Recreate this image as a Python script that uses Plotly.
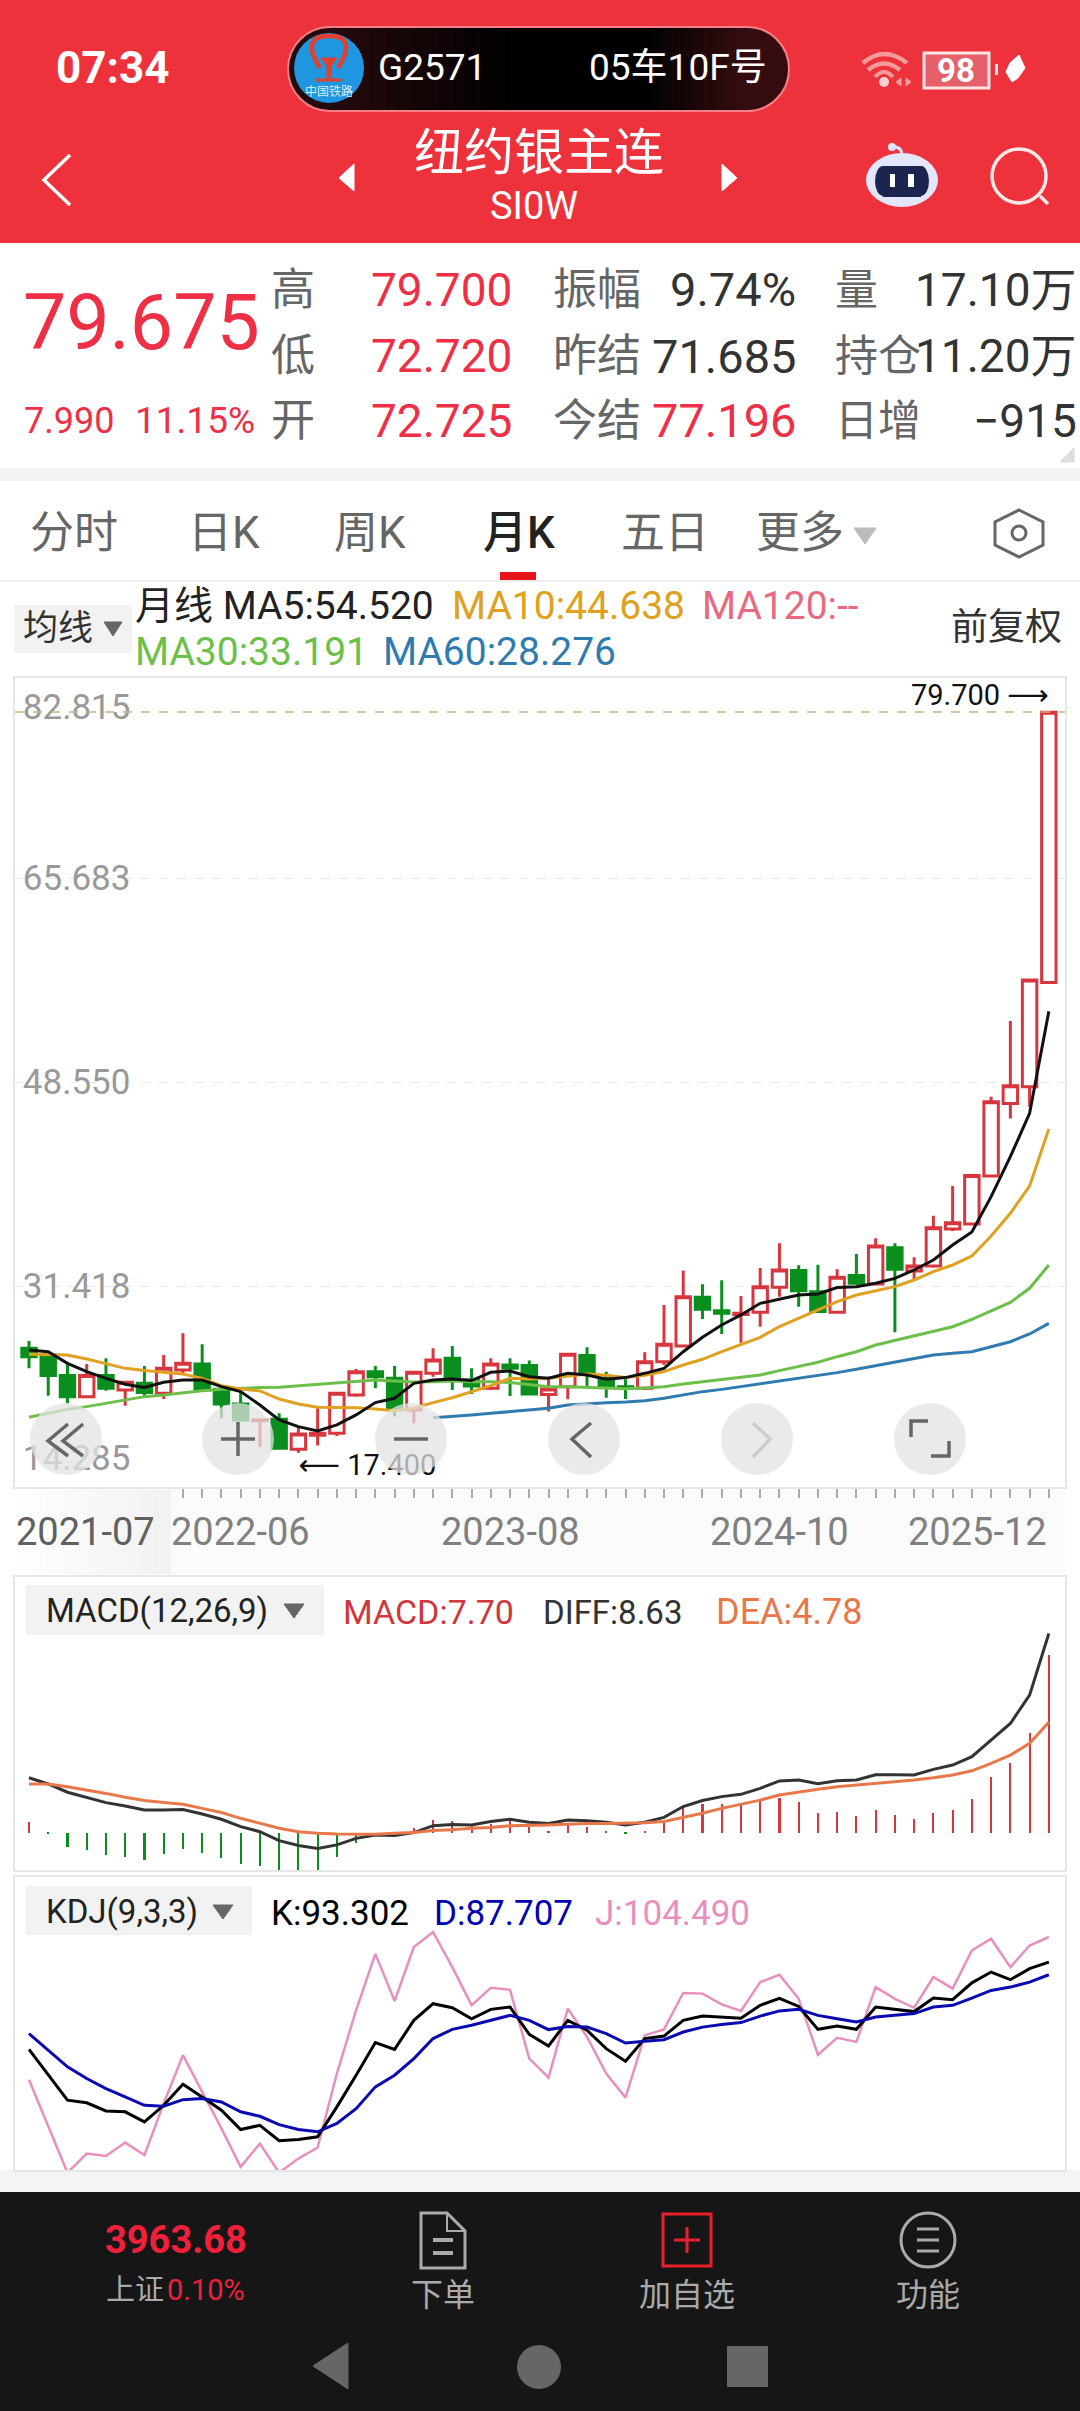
import pandas as pd
import plotly.graph_objects as go

W, H = 1080, 2411
FONT = "Roboto, Noto Sans CJK SC, DejaVu Sans"

months = list(pd.date_range("2021-07-01", periods=54, freq="MS").strftime("%Y-%m"))
x_pos = list(range(len(months)))

opens = [26.18, 25.48, 23.89, 22.12, 23.89, 22.68, 23.24, 22.40, 24.36,
         24.87, 22.74, 21.50, 20.10, 20.21, 17.69, 18.87, 19.04, 22.26,
         24.22, 23.66, 21.00, 24.08, 25.34, 23.52, 22.82, 24.78, 24.73,
         22.31, 22.96, 25.57, 23.66, 22.96, 22.82, 25.06, 26.38, 30.47,
         29.35, 29.02, 29.21, 31.31, 32.72, 30.95, 29.21, 32.30, 31.59,
         34.65, 32.69, 33.11, 36.22, 36.64, 40.68, 46.78, 48.19, 56.96]
highs = [26.80, 25.76, 24.92, 24.87, 25.34, 23.38, 24.70, 25.62, 27.45,
         26.52, 22.96, 22.54, 20.16, 20.72, 19.60, 21.14, 22.40, 24.45,
         24.70, 24.70, 24.22, 26.18, 26.38, 24.50, 25.34, 25.34, 25.15,
         23.80, 25.68, 26.27, 24.22, 23.58, 25.85, 29.83, 32.72, 31.57,
         31.90, 30.59, 32.94, 35.02, 33.16, 33.22, 32.83, 34.12, 35.44,
         35.02, 33.84, 37.34, 39.84, 40.71, 47.34, 53.71, 57.16, 79.70]
lows = [24.50, 22.20, 21.56, 21.98, 22.62, 21.36, 22.12, 21.92, 24.08,
        22.68, 20.30, 20.16, 17.91, 17.77, 17.40, 18.00, 18.81, 22.12,
        22.82, 20.44, 19.88, 23.80, 22.68, 22.34, 22.68, 22.17, 22.26,
        20.86, 21.89, 22.96, 22.03, 21.92, 22.68, 24.78, 26.27, 28.65,
        27.39, 26.66, 28.00, 30.53, 29.69, 29.18, 29.13, 31.51, 31.51,
        27.53, 31.93, 32.97, 36.05, 36.56, 40.57, 45.52, 46.50, 56.96]
closes = [25.48, 23.89, 22.12, 23.89, 22.82, 23.33, 22.46, 24.50, 24.92,
          22.68, 21.50, 20.16, 20.16, 17.77, 18.98, 19.04, 22.40, 24.22,
          23.80, 21.14, 24.17, 25.20, 23.61, 23.02, 24.87, 24.50, 22.34,
          22.76, 25.68, 24.08, 23.02, 22.85, 25.06, 26.52, 30.53, 29.46,
          29.13, 29.13, 31.37, 32.77, 31.03, 29.27, 32.16, 31.65, 34.79,
          32.83, 33.11, 36.33, 36.75, 40.71, 46.93, 48.27, 57.16, 79.675]

ma5 = [26.04, 25.90, 24.92, 24.22, 23.66, 23.16, 22.90, 23.33, 23.52,
       23.52, 22.96, 22.54, 21.42, 20.16, 19.60, 19.23, 19.74, 20.58,
       21.62, 21.98, 23.24, 23.52, 23.61, 23.47, 24.17, 24.28, 23.80,
       23.66, 24.08, 23.94, 23.58, 23.72, 24.08, 24.50, 25.90, 27.11,
       28.15, 28.99, 29.97, 30.33, 30.67, 30.75, 31.29, 31.37, 31.65,
       32.07, 32.77, 33.61, 34.87, 35.96, 38.94, 42.30, 45.95, 54.52]
ma10 = [25.68, 25.68, 25.62, 25.29, 24.92, 24.50, 24.31, 24.14, 24.03,
        23.66, 23.04, 22.76, 22.60, 21.92, 21.50, 21.22, 21.22, 21.19,
        21.08, 20.94, 21.14, 21.62, 22.03, 22.54, 23.04, 23.66, 23.61,
        23.66, 23.86, 24.03, 23.91, 23.72, 23.91, 24.22, 24.78, 25.26,
        25.90, 26.52, 27.11, 28.00, 28.71, 29.46, 30.11, 30.67, 31.03,
        31.37, 31.93, 32.63, 33.19, 33.95, 35.63, 37.54, 39.84, 44.64]
ma30 = [20.38, 20.72, 21.05, 21.28, 21.56, 21.84, 22.12, 22.26, 22.46,
        22.62, 22.74, 22.82, 22.88, 22.90, 23.02, 23.19, 23.30, 23.44,
        23.52, 23.44, 23.35, 23.38, 23.44, 23.38, 23.38, 23.30, 23.16,
        22.96, 22.96, 22.90, 22.79, 22.79, 22.85, 22.96, 23.18, 23.38,
        23.58, 23.75, 23.94, 24.31, 24.64, 25.01, 25.48, 25.90, 26.46,
        26.83, 27.22, 27.59, 28.00, 28.62, 29.35, 30.05, 31.23, 33.19]
ma60 = [None] * 21 + [20.35, 20.44, 20.58, 20.72, 20.86, 21.00,
        21.14, 21.42, 21.53, 21.61, 21.67, 21.78, 21.98, 22.29, 22.54,
        22.73, 22.96, 23.16, 23.44, 23.66, 23.89, 24.14, 24.42, 24.73,
        25.01, 25.31, 25.62, 25.76, 25.90, 26.32, 26.74, 27.39, 28.28]

macd = [0.45, -0.06, -0.63, -0.75, -0.97, -1.04, -1.18, -0.94, -0.72,
        -0.89, -1.08, -1.37, -1.44, -1.76, -1.73, -1.65, -1.04, -0.46,
        -0.10, -0.03, 0.22, 0.55, 0.50, 0.33, 0.38, 0.52, 0.26,
        0.09, 0.33, 0.23, 0.04, -0.06, 0.09, 0.40, 1.10, 1.23,
        1.24, 1.20, 1.37, 1.52, 1.31, 0.87, 0.88, 0.72, 0.98,
        0.75, 0.59, 0.84, 0.98, 1.46, 2.42, 3.00, 4.30, 7.70]
diff = [2.38, 2.11, 1.75, 1.53, 1.30, 1.15, 0.98, 0.98, 1.00,
        0.81, 0.58, 0.26, 0.04, -0.35, -0.56, -0.69, -0.53, -0.25,
        -0.10, -0.12, 0.00, 0.30, 0.35, 0.33, 0.48, 0.58, 0.45,
        0.40, 0.55, 0.52, 0.45, 0.33, 0.45, 0.66, 1.13, 1.39,
        1.56, 1.66, 1.92, 2.24, 2.28, 2.12, 2.25, 2.28, 2.51,
        2.51, 2.50, 2.74, 2.93, 3.29, 4.01, 4.73, 5.96, 8.63]
dea = [2.11, 2.11, 1.99, 1.85, 1.70, 1.53, 1.39, 1.31, 1.23,
       1.05, 0.87, 0.62, 0.40, 0.19, 0.04, -0.03, -0.06, -0.07,
       -0.07, -0.03, 0.01, 0.09, 0.12, 0.19, 0.22, 0.30, 0.30,
       0.33, 0.36, 0.40, 0.40, 0.40, 0.43, 0.48, 0.65, 0.84,
       1.05, 1.23, 1.41, 1.63, 1.77, 1.88, 1.99, 2.06, 2.14,
       2.21, 2.28, 2.38, 2.50, 2.68, 3.00, 3.36, 3.87, 4.78]

k_line = [54.5, 43.0, 31.9, 30.7, 27.1, 26.7, 22.2, 29.6, 39.0,
          33.3, 27.4, 18.8, 20.7, 13.8, 14.4, 15.6, 28.9, 43.0,
          57.5, 54.5, 67.4, 74.8, 73.0, 68.1, 72.3, 73.3, 61.2,
          56.0, 67.4, 63.0, 54.8, 49.2, 59.3, 60.4, 67.4, 69.3,
          68.7, 68.3, 74.1, 77.2, 73.6, 63.4, 64.9, 63.4, 73.3,
          72.3, 71.3, 77.3, 76.6, 84.1, 88.9, 85.5, 90.4, 93.3]
d_line = [61.5, 54.1, 46.7, 41.5, 37.0, 33.3, 29.6, 29.2, 32.1,
          32.6, 31.1, 26.7, 24.7, 21.0, 18.8, 17.8, 21.5, 28.1,
          37.8, 43.0, 50.4, 59.3, 63.4, 65.2, 67.4, 69.6, 67.4,
          63.3, 64.7, 64.4, 61.5, 57.3, 58.1, 58.8, 62.2, 64.4,
          65.6, 66.4, 69.3, 71.6, 72.3, 69.6, 68.1, 66.7, 68.9,
          69.6, 70.4, 73.3, 74.1, 77.3, 80.7, 82.2, 84.4, 87.7]
j_line = [41.0, 20.0, -0.4, 8.1, 7.0, 13.0, 7.4, 30.4, 51.9,
          35.6, 19.3, 2.2, 12.6, -0.4, 5.9, 10.8, 43.7, 71.9,
          97.0, 76.0, 100.0, 106.7, 91.1, 74.1, 81.9, 81.0, 50.4,
          41.9, 72.6, 60.0, 43.7, 33.0, 60.7, 63.4, 79.6, 79.3,
          74.5, 71.6, 84.4, 87.7, 77.0, 52.1, 59.6, 57.8, 82.2,
          77.0, 73.0, 86.7, 81.5, 98.5, 103.7, 91.1, 100.7, 104.5]

price_ticks = [14.285, 31.418, 48.550, 65.683, 82.815]
major_months = ["2022-06", "2023-08", "2024-10", "2025-12"]

RED = "#d8363e"
GREEN = "#0a8f1e"
TOP_RED = "#ee323c"
QUOTE_RED = "#ee2f45"
LINE = "#e6e6e6"


def X(px):
    return px / W


def Y(px):
    return 1 - px / H


shapes = []
notes = []


def rect(x0, y0, x1, y1, fill, line=None, lw=0, layer="below"):
    shapes.append(dict(type="rect", xref="paper", yref="paper", x0=X(x0), x1=X(x1),
                       y0=Y(y0), y1=Y(y1), fillcolor=fill, layer=layer,
                       line=dict(color=line or fill, width=lw)))


def circle(cx, cy, rx, ry, fill, line=None, lw=0, layer="above"):
    shapes.append(dict(type="circle", xref="paper", yref="paper", x0=X(cx - rx), x1=X(cx + rx),
                       y0=Y(cy - ry), y1=Y(cy + ry), fillcolor=fill, layer=layer,
                       line=dict(color=line or fill, width=lw)))


def path(pts, color, lw=3, fill="rgba(0,0,0,0)", close=False, layer="above"):
    d = "M " + " L ".join(f"{X(a):.5f},{Y(b):.5f}" for a, b in pts)
    if close:
        d += " Z"
    shapes.append(dict(type="path", xref="paper", yref="paper", path=d, fillcolor=fill,
                       layer=layer, line=dict(color=color, width=lw)))


def curve(p0, ctrl, p1, color, lw=4):
    d = (f"M {X(p0[0]):.5f},{Y(p0[1]):.5f} Q {X(ctrl[0]):.5f},{Y(ctrl[1]):.5f} "
         f"{X(p1[0]):.5f},{Y(p1[1]):.5f}")
    shapes.append(dict(type="path", xref="paper", yref="paper", path=d, layer="above",
                       line=dict(color=color, width=lw)))


def text(x, y, s, size, color="#333333", anchor="left", weight=400):
    notes.append(dict(xref="paper", yref="paper", x=X(x), y=Y(y), text=s, showarrow=False,
                      xanchor=anchor, yanchor="middle", borderpad=0,
                      font=dict(family=FONT, size=size, color=color, weight=weight)))


def strips(x0, x1, y0, y1, c0, c1, n, layer="below"):
    step = (x1 - x0) / n
    for i in range(n):
        t = i / (n - 1)
        col = "rgb(%d,%d,%d)" % tuple(round(a + (b - a) * t) for a, b in zip(c0, c1))
        rect(x0 + i * step, y0, x0 + (i + 1) * step + 0.5, y1, col, layer=layer)


# page background blocks
rect(0, 0, W, 243, TOP_RED)
rect(0, 468, W, 481, "#f3f3f3")
rect(15, 1490, 1065, 1574, "#fbfbfb")
strips(15, 170, 1490, 1574, (254, 254, 254), (242, 242, 242), 10)
rect(0, 2170, W, 2192, "#f4f4f4")
rect(0, 2192, W, H, "#161616")
rect(0, 580, W, 582, "#eeeeee")

# status bar
text(112, 68, "07:34", 44, "white", "center", 700)
pill_l, pill_r = (36, 10, 12), (52, 12, 15)
circle(330, 69, 42, 42, "rgb(36,10,12)", "#f58088", 2, "below")
circle(747, 69, 42, 42, "rgb(52,12,15)", "#f58088", 2, "below")
strips(330, 520, 28, 110, pill_l, (0, 0, 0), 14)
rect(520, 28, 640, 110, "#000000")
strips(640, 747, 28, 110, (0, 0, 0), pill_r, 10)
path([(330, 27), (747, 27)], "#f58088", 2, layer="below")
path([(330, 111), (747, 111)], "#f58088", 2, layer="below")
circle(329, 68, 35, 35, "#1f96e0")
curve((320, 68), (300, 36), (329, 36), "#e0402c", 4.5)
curve((329, 36), (358, 36), (338, 68), "#e0402c", 4.5)
path([(321, 58), (337, 58), (331, 66), (331, 78), (327, 78), (327, 66)], "#e0402c", 1, "#e0402c", True)
path([(316, 80), (342, 80)], "#e0402c", 3)
text(329, 92, "中国铁路", 12, "#d8f0ff", "center")
text(377, 68, "G2571", 37, "white")
text(768, 68, "05车10F号", 37, "white", "right")
wifi = "#f79a9a"
curve((863, 63), (884, 45), (907, 63), wifi, 4.5)
curve((868, 70), (884, 57), (900, 70), wifi, 4.5)
curve((875, 77), (884, 67), (893, 77), wifi, 4)
circle(884, 82, 5, 5, "#fbd0d0")
path([(901, 78), (896, 82), (901, 86)], wifi, 1, wifi, True)
path([(906, 78), (911, 82), (906, 86)], wifi, 1, wifi, True)
rect(924, 53, 989, 88, "#e6606a", "#fbe4e4", 3, "above")
text(956, 71, "98", 33, "white", "center", 700)
rect(995, 64, 998, 75, "#fbe4e4", layer="above")
path([(1019, 55), (1025, 68), (1018, 78), (1012, 82), (1006, 72), (1010, 63)], "white", 1, "white", True)

# title row
path([(70, 155), (44, 180), (70, 205)], "white", 3.5)
path([(354, 164), (339, 178), (354, 191)], "white", 1, "white", True)
path([(722, 164), (737, 178), (722, 191)], "white", 1, "white", True)
text(539, 153, "纽约银主连", 50, "white", "center")
text(534, 206, "SI0W", 38, "white", "center")
curve((892, 147), (900, 146), (902, 153), "#dfe3fb", 3)
circle(892, 147, 4, 4, "#dfe3fb")
circle(902, 180, 36, 27, "#e4e6fb")
rect(883, 166, 921, 197, "#1c2550", layer="above")
circle(883, 181, 8, 15, "#1c2550")
circle(921, 181, 8, 15, "#1c2550")
rect(890, 174, 895, 187, "white", layer="above")
rect(908, 174, 914, 187, "white", layer="above")
circle(1019, 176, 27, 27, "rgba(0,0,0,0)", "#fde8e8", 3.5)
path([(1040, 196), (1048, 204)], "#fde8e8", 3.5)

# quote block
text(141, 323, "79.675", 77, QUOTE_RED, "center")
text(23, 421, "7.990", 36, QUOTE_RED)
text(256, 421, "11.15%", 37, QUOTE_RED, "right")
rows = [290, 356, 421]
for y, a, b, c, d, e, f in zip(rows, ["高", "低", "开"], ["79.700", "72.720", "72.725"],
                               ["振幅", "昨结", "今结"], ["9.74%", "71.685", "77.196"],
                               ["量", "持仓", "日增"], ["17.10万", "11.20万", "−915"]):
    text(293, y, a, 44, "#666666", "center")
    text(513, y, b, 46, QUOTE_RED, "right")
    text(597, y, c, 44, "#666666", "center")
    text(797, y, d, 47, QUOTE_RED if d == "77.196" else "#333333", "right")
    text(878 if e != "量" else 856, y, e, 43, "#666666", "center")
    text(1078, y, f, 46, "#333333", "right")
path([(1074, 448), (1074, 462), (1060, 462)], "#dddddd", 1, "#dddddd", True)

# tabs
for cx, tab in zip([74, 224, 370, 665, 800], ["分时", "日K", "周K", "五日", "更多"]):
    text(cx, 533, tab, 44, "#666666", "center")
text(519, 533, "月K", 44, "#222222", "center", 500)
path([(854, 528), (876, 528), (865, 544)], "#bbbbbb", 1, "#bbbbbb", True)
rect(500, 572, 536, 580, "#e8141c", layer="above")
path([(1019, 510), (1043, 522), (1043, 545), (1019, 557), (995, 545), (995, 522)], "#666666", 3, close=True)
circle(1019, 533, 7, 7, "rgba(0,0,0,0)", "#666666", 3)

# moving average legend
rect(14, 605, 132, 653, "#f2f2f2")
text(58, 628, "均线", 35, "#333333", "center")
path([(104, 622), (122, 622), (113, 636)], "#666666", 1, "#666666", True)
text(134, 606, "月线 MA5:54.520", 39, "#222222")
text(451, 606, "MA10:44.638", 39, "#e0a020")
text(701, 606, "MA120:--", 39, "#e86a80")
text(134, 652, "MA30:33.191", 39, "#6cc04a")
text(382, 652, "MA60:28.276", 39, "#2f7bb0")
text(1006, 627, "前复权", 37, "#333333", "center")

# month labels, first and last are kept inside the pane
for m, anchor, shift in [(months[0], "left", -1), (major_months[0], "center", 0), (major_months[1], "center", 0),
                         (major_months[2], "center", 0), (major_months[3], "right", 0)]:
    notes.append(dict(xref="x", yref="paper", x=months.index(m), y=Y(1532), text=m, showarrow=False,
                      xanchor=anchor, yanchor="middle", xshift=-15 if shift else 0,
                      font=dict(family=FONT, size=38, color="#606060" if shift else "#808080")))

# indicator headers
rect(26, 1585, 324, 1635, "#f2f2f2")
text(45, 1610, "MACD(12,26,9)", 33, "#222222")
path([(284, 1604), (304, 1604), (294, 1618)], "#666666", 1, "#666666", True)
text(342, 1612, "MACD:7.70", 34, "#d0363c")
text(542, 1612, "DIFF:8.63", 33, "#333333")
text(715, 1612, "DEA:4.78", 36, "#e8784a")
rect(26, 1886, 252, 1935, "#f2f2f2")
text(45, 1911, "KDJ(9,3,3)", 33, "#222222")
path([(213, 1905), (233, 1905), (223, 1919)], "#666666", 1, "#666666", True)
text(270, 1913, "K:93.302", 35, "#000000")
text(433, 1913, "D:87.707", 35, "#0000b0")
text(594, 1913, "J:104.490", 35, "#e88fc0")

# buttons over the candles
btn = "rgba(226,226,226,0.74)"
for cx in [66, 238, 411, 584, 757, 930]:
    circle(cx, 1439, 36, 36, btn)
icon = "#666666"
path([(68, 1424), (48, 1441), (68, 1456)], icon, 3.5)
path([(83, 1424), (63, 1441), (83, 1456)], icon, 3.5)
path([(221, 1439), (255, 1439)], icon, 3.5)
path([(238, 1422), (238, 1456)], icon, 3.5)
path([(394, 1439), (428, 1439)], icon, 3.5)
path([(591, 1423), (572, 1439), (591, 1457)], icon, 3.5)
path([(753, 1423), (770, 1439), (753, 1457)], "#cccccc", 3.5)
path([(911, 1437), (911, 1421), (928, 1421)], icon, 3.5)
path([(931, 1456), (949, 1456), (949, 1441)], icon, 3.5)

# bottom bar
text(176, 2240, "3963.68", 38, "#f0203a", "center", 700)
text(105, 2290, "上证", 29, "#aaaaaa")
text(246, 2290, "0.10%", 29, "#f0203a", "right")
nav = "#aaaaaa"
path([(421, 2213), (447, 2213), (465, 2231), (465, 2268), (421, 2268)], nav, 3, close=True)
path([(447, 2213), (447, 2231), (465, 2231)], nav, 2)
path([(433, 2240), (453, 2240)], nav, 4)
path([(433, 2253), (453, 2253)], nav, 4)
text(443, 2295, "下单", 32, nav, "center")
rect(663, 2214, 711, 2266, "rgba(0,0,0,0)", "#e8202c", 3, "above")
path([(674, 2240), (700, 2240)], "#e8202c", 3)
path([(687, 2227), (687, 2253)], "#e8202c", 3)
text(687, 2295, "加自选", 32, nav, "center")
circle(928, 2240, 27, 27, "rgba(0,0,0,0)", nav, 3)
for yy in [2229, 2240, 2251]:
    path([(917, yy), (939, yy)], nav, 3)
text(928, 2295, "功能", 32, nav, "center")
path([(313, 2366), (348, 2343), (348, 2389)], "#666666", 1, "#666666", True)
circle(539, 2367, 22, 22, "#666666")
rect(727, 2346, 768, 2387, "#666666", layer="above")

# axis ranges, read from where the price levels sit in the pane
price_top, price_bottom = 82.56, 14.52
low_i = lows.index(min(lows))
high_i = highs.index(max(highs))
label_nudge = 29 / 11.89
text_drop = 3 / 11.89
tick_label_y = [price_bottom + label_nudge] + price_ticks[1:-1] + [price_top - label_nudge]
tick_label_y = [v - text_drop for v in tick_label_y]

fig = go.Figure()
fig.add_trace(go.Candlestick(x=x_pos, open=opens, high=highs, low=lows, close=closes, whiskerwidth=0,
                             increasing=dict(line=dict(color=RED, width=3), fillcolor="white"),
                             decreasing=dict(line=dict(color=GREEN, width=3), fillcolor=GREEN),
                             xaxis="x", yaxis="y", hoverinfo="skip"))
for vals, col in [(ma30, "#6cc04a"), (ma60, "#2f7bb0"), (ma10, "#e0a020"), (ma5, "#111111")]:
    fig.add_trace(go.Scatter(x=x_pos, y=vals, mode="lines", line=dict(color=col, width=3),
                             xaxis="x", yaxis="y", hoverinfo="skip"))
fig.add_trace(go.Scatter(x=[-0.32] * len(price_ticks), y=tick_label_y, mode="text",
                         text=[f"{v:.3f}" for v in price_ticks], textposition="middle right",
                         textfont=dict(family=FONT, size=35, color="#999999"),
                         xaxis="x", yaxis="y", hoverinfo="skip"))
fig.add_trace(go.Scatter(x=[low_i], y=[lows[low_i]], mode="text", text=[f"⟵ {lows[low_i]:.3f}"],
                         textposition="bottom right", textfont=dict(family=FONT, size=29, color="#111111"),
                         xaxis="x", yaxis="y", hoverinfo="skip"))
fig.add_trace(go.Scatter(x=[high_i], y=[highs[high_i]], mode="text", text=[f"{highs[high_i]:.3f} ⟶"],
                         textposition="top left", textfont=dict(family=FONT, size=29, color="#111111"),
                         xaxis="x", yaxis="y", hoverinfo="skip"))

fig.add_trace(go.Bar(x=x_pos, y=macd, width=0.11, marker=dict(color=[RED if v > 0 else GREEN for v in macd], line=dict(width=0)),
                     cliponaxis=False, xaxis="x2", yaxis="y2", hoverinfo="skip"))
fig.add_trace(go.Scatter(x=x_pos, y=diff, mode="lines", line=dict(color="#333333", width=3),
                         xaxis="x2", yaxis="y2", hoverinfo="skip"))
fig.add_trace(go.Scatter(x=x_pos, y=dea, mode="lines", line=dict(color="#e8784a", width=3),
                         xaxis="x2", yaxis="y2", hoverinfo="skip"))

fig.add_trace(go.Scatter(x=x_pos, y=j_line, mode="lines", line=dict(color="#e88fc0", width=2.5), cliponaxis=False,
                         xaxis="x3", yaxis="y3", hoverinfo="skip"))
fig.add_trace(go.Scatter(x=x_pos, y=k_line, mode="lines", line=dict(color="#000000", width=3),
                         xaxis="x3", yaxis="y3", hoverinfo="skip"))
fig.add_trace(go.Scatter(x=x_pos, y=d_line, mode="lines", line=dict(color="#0a0ab0", width=3),
                         xaxis="x3", yaxis="y3", hoverinfo="skip"))

shapes.append(dict(type="line", xref="x domain", yref="y", x0=0, x1=1, y0=79.7, y1=79.7, layer="above",
                   line=dict(color="#c9b27a", width=1.5, dash="dash")))

x_range = [-0.727, 53.84]
x_dom = [X(15), X(1065)]
base_x = dict(range=x_range, domain=x_dom, showgrid=False, zeroline=False, showline=True, mirror=True,
              linecolor=LINE, linewidth=1.5, showticklabels=False, ticks="")
base_y = dict(showgrid=False, zeroline=False, showline=True, mirror=True, linecolor=LINE, linewidth=1.5,
              showticklabels=False, ticks="")

fig.update_layout(
    width=W, height=H, margin=dict(l=0, r=0, t=0, b=0, pad=0), autosize=False,
    paper_bgcolor="white", plot_bgcolor="rgba(0,0,0,0)", showlegend=False,
    boxgap=0.25, boxgroupgap=0, bargap=0, shapes=shapes, annotations=notes, hovermode=False,
    xaxis=dict(base_x, anchor="y", rangeslider=dict(visible=False),
               tickmode="array", tickvals=[months.index(m) for m in major_months], ticktext=[""] * 4,
               ticks="outside", ticklen=15, tickwidth=2, tickcolor="#888888",
               minor=dict(tickmode="array", tickvals=[i for i in x_pos if i >= 8], ticks="outside", ticklen=9,
                          tickwidth=1.5, tickcolor="#aaaaaa", showgrid=False)),
    yaxis=dict(base_y, anchor="x", domain=[Y(1487), Y(678)], range=[price_bottom, price_top],
               tickmode="array", tickvals=price_ticks, showgrid=True, gridcolor="#e9e9e9", griddash="dash",
               gridwidth=1),
    xaxis2=dict(base_x, anchor="y2"),
    yaxis2=dict(base_y, anchor="x2", domain=[Y(1870), Y(1577)], range=[-1.62, 11.08]),
    xaxis3=dict(base_x, anchor="y3"),
    yaxis3=dict(base_y, anchor="x3", domain=[Y(2170), Y(1877)], range=[0.8, 131.2]),
)

fig.write_html("out.html", config=dict(displayModeBar=False),
               post_script="document.body.style.margin='0';document.body.style.background='white';")
